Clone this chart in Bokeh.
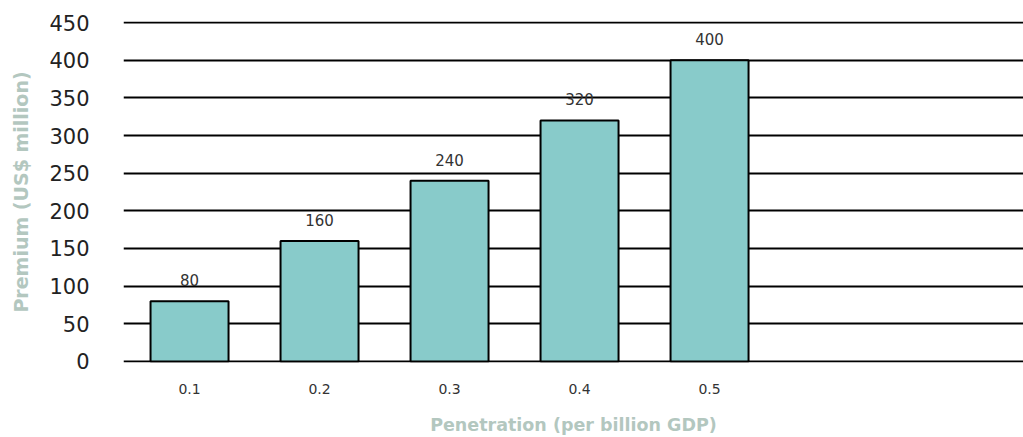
from bokeh.plotting import figure
from bokeh.models import ColumnDataSource, FixedTicker
from bokeh.core.properties import value
from bokeh.embed import file_html
from bokeh.resources import INLINE

# Premium written at each level of insurance penetration
penetration = [0.1, 0.2, 0.3, 0.4, 0.5]
premium = [80, 160, 240, 320, 400]
premium_labels = ["80", "160", "240", "320", "400"]
y_ticks = [0, 50, 100, 150, 200, 250, 300, 350, 400, 450]

source = ColumnDataSource(data=dict(x=penetration, top=premium, label=premium_labels))

# a hair of padding on y so the 0 and 450 grid lines are drawn
p = figure(
    width=1023, height=437,
    x_range=(0.0492, 0.7415), y_range=(-1.4, 451.4),
    output_backend="svg", toolbar_location=None,
    min_border_left=123, min_border_right=0,
    min_border_top=21, min_border_bottom=74,
)
p.outline_line_color = None
p.background_fill_color = "white"
p.border_fill_color = "white"

p.vbar(x="x", top="top", width=0.06, bottom=0, source=source,
       fill_color="#88cbca", line_color="black", line_width=2)

p.text(x="x", y="top", text="label", source=source,
       text_align="center", text_baseline="alphabetic", y_offset=-21,
       text_font=value("DejaVu Sans"), text_font_size="15px",
       text_color="#333333")

title_color = "#b3c7bf"

# y axis: no axis line or ticks
p.yaxis.ticker = FixedTicker(ticks=y_ticks)
p.yaxis.axis_line_color = None
p.yaxis.major_tick_line_color = None
p.yaxis.minor_tick_line_color = None
p.yaxis.major_label_text_font = "DejaVu Sans"
p.yaxis.major_label_text_font_size = "21px"
p.yaxis.major_label_text_color = "#222222"
p.yaxis.major_label_standoff = 28
p.yaxis.axis_label = "Premium (US$ million)"
p.yaxis.axis_label_text_font = "DejaVu Sans"
p.yaxis.axis_label_text_font_style = "bold"
p.yaxis.axis_label_text_font_size = "19px"
p.yaxis.axis_label_text_color = title_color
p.yaxis.axis_label_standoff = 14

# x axis
p.xaxis.ticker = FixedTicker(ticks=penetration)
p.xaxis.axis_line_color = None
p.xaxis.major_tick_line_color = None
p.xaxis.minor_tick_line_color = None
p.xaxis.major_label_text_font = "DejaVu Sans"
p.xaxis.major_label_text_font_size = "14px"
p.xaxis.major_label_text_color = "#333333"
p.xaxis.major_label_standoff = 15
p.xaxis.axis_label = "Penetration (per billion GDP)"
p.xaxis.axis_label_text_font = "DejaVu Sans"
p.xaxis.axis_label_text_font_style = "bold"
p.xaxis.axis_label_text_font_size = "17.5px"
p.xaxis.axis_label_text_color = title_color
p.xaxis.axis_label_standoff = 18

# horizontal grid only, solid black
p.xgrid.grid_line_color = None
p.ygrid.grid_line_color = "black"
p.ygrid.grid_line_width = 2

open("out.html", "w").write(file_html(p, INLINE))
